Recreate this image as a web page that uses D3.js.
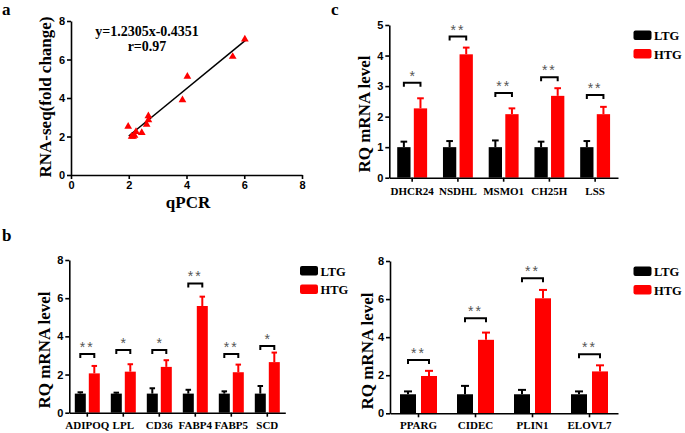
<!DOCTYPE html>
<html><head><meta charset="utf-8">
<script src="https://cdn.jsdelivr.net/npm/d3@7"></script>
<style>
body{margin:0;background:#fff}
svg{display:block}
.tick text{font-family:"Liberation Sans",Arial,sans-serif;font-weight:bold;font-size:11px}
</style></head>
<body>
<svg id="chart" width="685" height="433"></svg>
<script>
// ---- Data ----
const scatterX = [1.98, 2.1, 2.15, 2.2, 2.25, 2.45, 2.62, 2.68, 2.68, 3.86, 4.03, 5.6, 6.02];
const scatterY = [2.52, 2.0, 2.0, 2.05, 2.25, 2.2, 2.62, 2.86, 3.06, 3.9, 5.12, 6.15, 7.05];
const fitSlope = 1.2305, fitIntercept = -0.4351;
const fitRange = [2.0, 6.05];
const scatterTicks = [0, 2, 4, 6, 8];

const cCats = ["DHCR24", "NSDHL", "MSMO1", "CH25H", "LSS"];
const cLTG = [1.0, 1.0, 1.0, 1.0, 1.0];
const cLTGerr = [0.18, 0.2, 0.22, 0.18, 0.2];
const cHTG = [2.27, 4.04, 2.08, 2.68, 2.08];
const cHTGerr = [0.33, 0.22, 0.19, 0.25, 0.24];
const cSig = ["*", "**", "**", "**", "**"];
const cBracket = [3.11, 4.62, 2.77, 3.29, 2.71];
const cTicks = [0, 1, 2, 3, 4, 5];

const bLCats = ["ADIPOQ", "LPL", "CD36", "FABP4", "FABP5", "SCD"];
const bLLTG = [1.0, 1.0, 1.0, 1.0, 1.0, 1.0];
const bLLTGerr = [0.07, 0.05, 0.28, 0.2, 0.12, 0.4];
const bLHTG = [2.06, 2.15, 2.4, 5.59, 2.12, 2.65];
const bLHTGerr = [0.39, 0.39, 0.35, 0.49, 0.4, 0.5];
const bLSig = ["**", "*", "*", "**", "**", "*"];
const bLBracket = [3.08, 3.29, 3.29, 6.77, 3.08, 3.5];
const bLTicks = [0, 2, 4, 6, 8];

const bRCats = ["PPARG", "CIDEC", "PLIN1", "ELOVL7"];
const bRLTG = [1.0, 1.0, 1.0, 1.0];
const bRLTGerr = [0.15, 0.44, 0.23, 0.15];
const bRHTG = [1.96, 3.86, 6.04, 2.2];
const bRHTGerr = [0.27, 0.38, 0.44, 0.32];
const bRSig = ["**", "**", "**", "**"];
const bRBracket = [2.8, 4.99, 7.09, 3.1];
const bRTicks = [0, 2, 4, 6, 8];

const seriesNames = ["LTG", "HTG"];
const seriesColors = ["#000000", "#ff0000"];

// ---- Drawing ----
const svg = d3.select("#chart");
const serif = '"Liberation Serif","Times New Roman",serif';
const fmt = d3.format("d");

function styleAxis(g){
  g.selectAll(".domain").attr("stroke","#000").attr("stroke-width",1.6);
  g.selectAll(".tick line").attr("stroke","#000").attr("stroke-width",1.6);
  g.selectAll(".tick text").attr("fill","#000");
}

// Panel letters
[["a",2,15.3],["c",331,15.3],["b",2,241]].forEach(([t,x,y])=>{
  svg.append("text").attr("x",x).attr("y",y).text(t)
    .attr("font-family",serif).attr("font-weight","bold").attr("font-size",17);
});

// ---- Panel a: scatter ----
(function(){
  const x = d3.scaleLinear().domain([0,8]).range([71,302]);
  const y = d3.scaleLinear().domain([0,8]).range([175,21]);
  const g = svg.append("g");
  const gx = g.append("g").attr("transform","translate(0,175)")
    .call(d3.axisBottom(x).tickValues(scatterTicks).tickFormat(fmt).tickSize(4).tickSizeOuter(0).tickPadding(2));
  const gy = g.append("g").attr("transform","translate(71,0)")
    .call(d3.axisLeft(y).tickValues(scatterTicks).tickFormat(fmt).tickSize(4).tickSizeOuter(0).tickPadding(2));
  styleAxis(gx); styleAxis(gy);
  g.append("line")
    .attr("x1",x(fitRange[0])).attr("y1",y(fitSlope*fitRange[0]+fitIntercept))
    .attr("x2",x(fitRange[1])).attr("y2",y(fitSlope*fitRange[1]+fitIntercept))
    .attr("stroke","#000").attr("stroke-width",1.5);
  const tri = d3.symbol().type(d3.symbolTriangle).size(26);
  g.selectAll("path.pt").data(scatterX.map((v,i)=>[v,scatterY[i]])).join("path")
    .attr("class","pt").attr("d",tri)
    .attr("transform",d=>`translate(${x(d[0])},${y(d[1])})`)
    .attr("fill","#ff0000");
  g.append("text").attr("x",147).attr("y",36).attr("text-anchor","middle")
    .attr("font-family",serif).attr("font-weight","bold").attr("font-size",14)
    .text("y=1.2305x-0.4351");
  g.append("text").attr("x",147).attr("y",51).attr("text-anchor","middle")
    .attr("font-family",serif).attr("font-weight","bold").attr("font-size",14)
    .text("r=0.97");
  g.append("text").attr("x",188).attr("y",208).attr("text-anchor","middle")
    .attr("font-family",serif).attr("font-weight","bold").attr("font-size",17)
    .text("qPCR");
  g.append("text").attr("transform","translate(51,97) rotate(-90)").attr("text-anchor","middle")
    .attr("font-family",serif).attr("font-weight","bold").attr("font-size",17)
    .text("RNA-seq(fold change)");
})();

// ---- Bar panels ----
function barPanel(opt){
  const {cats, ltg, ltgErr, htg, htgErr, sig, bracket, ticks, xRange, yRange, yMax,
         barW, gap, labelY, titleX, titleY, legX, legY} = opt;
  const x = d3.scaleBand().domain(cats).range(xRange);
  const y = d3.scaleLinear().domain([0,yMax]).range(yRange);
  const g = svg.append("g");
  const series = [ltg, htg], errs = [ltgErr, htgErr];
  const offs = [-(gap/2+barW), gap/2];
  series.forEach((vals,s)=>{
    const data = cats.map((c,i)=>({c, v:vals[i], e:errs[s][i]}));
    const cx = d=> x(d.c)+x.bandwidth()/2+offs[s];
    g.selectAll(null).data(data).join("line")
      .attr("x1",d=>cx(d)+barW/2).attr("x2",d=>cx(d)+barW/2)
      .attr("y1",d=>y(d.v)).attr("y2",d=>y(d.v+d.e))
      .attr("stroke",seriesColors[s]).attr("stroke-width",2);
    g.selectAll(null).data(data).join("line")
      .attr("x1",d=>cx(d)+barW/2-barW*0.25).attr("x2",d=>cx(d)+barW/2+barW*0.25)
      .attr("y1",d=>y(d.v+d.e)).attr("y2",d=>y(d.v+d.e))
      .attr("stroke",seriesColors[s]).attr("stroke-width",2);
    g.selectAll(null).data(data).join("rect")
      .attr("x",cx).attr("width",barW)
      .attr("y",d=>y(d.v)).attr("height",d=>y(0)-y(d.v))
      .attr("fill",seriesColors[s]);
  });
  // brackets
  cats.forEach((c,i)=>{
    const x1 = x(c)+x.bandwidth()/2+offs[0]+barW/2;
    const x2 = x(c)+x.bandwidth()/2+offs[1]+barW/2;
    const yb = y(bracket[i]);
    g.append("path").attr("d",`M${x1},${yb+4}V${yb}H${x2}V${yb+4}`)
      .attr("fill","none").attr("stroke","#000").attr("stroke-width",2);
    g.append("text").attr("x",(x1+x2)/2).attr("y",yb-2).attr("text-anchor","middle")
      .attr("font-family",'"Liberation Sans",Arial,sans-serif').attr("font-size",14)
      .attr("letter-spacing", sig[i].length>1?"2px":"0px")
      .attr("fill","#555").text(sig[i]);
  });
  const gx = g.append("g").attr("transform",`translate(0,${yRange[0]})`)
    .call(d3.axisBottom(x).tickSize(4).tickSizeOuter(0).tickFormat(""));
  const gy = g.append("g").attr("transform",`translate(${xRange[0]},0)`)
    .call(d3.axisLeft(y).tickValues(ticks).tickFormat(fmt).tickSize(4).tickSizeOuter(0).tickPadding(2));
  styleAxis(gx); styleAxis(gy);
  g.selectAll(null).data(cats).join("text")
    .attr("x",c=>x(c)+x.bandwidth()/2).attr("y",labelY).attr("text-anchor","middle")
    .attr("font-family",serif).attr("font-weight","bold").attr("font-size",11)
    .text(c=>c);
  g.append("text").attr("transform",`translate(${titleX},${titleY}) rotate(-90)`)
    .attr("text-anchor","middle")
    .attr("font-family",serif).attr("font-weight","bold").attr("font-size",17)
    .text("RQ mRNA level");
  seriesNames.forEach((n,s)=>{
    g.append("rect").attr("x",legX).attr("y",legY+s*18.5).attr("width",18).attr("height",9.5)
      .attr("rx",2).attr("fill",seriesColors[s]);
    g.append("text").attr("x",legX+20.5).attr("y",legY+s*18.5+9.5)
      .attr("font-family",serif).attr("font-weight","bold").attr("font-size",12.5).text(n);
  });
}

barPanel({cats:cCats, ltg:cLTG, ltgErr:cLTGerr, htg:cHTG, htgErr:cHTGerr, sig:cSig,
  bracket:cBracket, ticks:cTicks, xRange:[389.3,618], yRange:[177.7,25], yMax:5,
  barW:13.3, gap:3.3, labelY:195, titleX:370, titleY:114, legX:633.5, legY:30.5});

barPanel({cats:bLCats, ltg:bLLTG, ltgErr:bLLTGerr, htg:bLHTG, htgErr:bLHTGerr, sig:bLSig,
  bracket:bLBracket, ticks:bLTicks, xRange:[69.3,285.3], yRange:[412.7,260], yMax:8,
  barW:11, gap:3, labelY:429, titleX:50, titleY:350, legX:300, legY:266});

barPanel({cats:bRCats, ltg:bRLTG, ltgErr:bRLTGerr, htg:bRHTG, htgErr:bRHTGerr, sig:bRSig,
  bracket:bRBracket, ticks:bRTicks, xRange:[390,618], yRange:[413.3,261], yMax:8,
  barW:16, gap:5, labelY:429, titleX:373, titleY:351, legX:633.5, legY:266.5});
</script>
</body></html>
